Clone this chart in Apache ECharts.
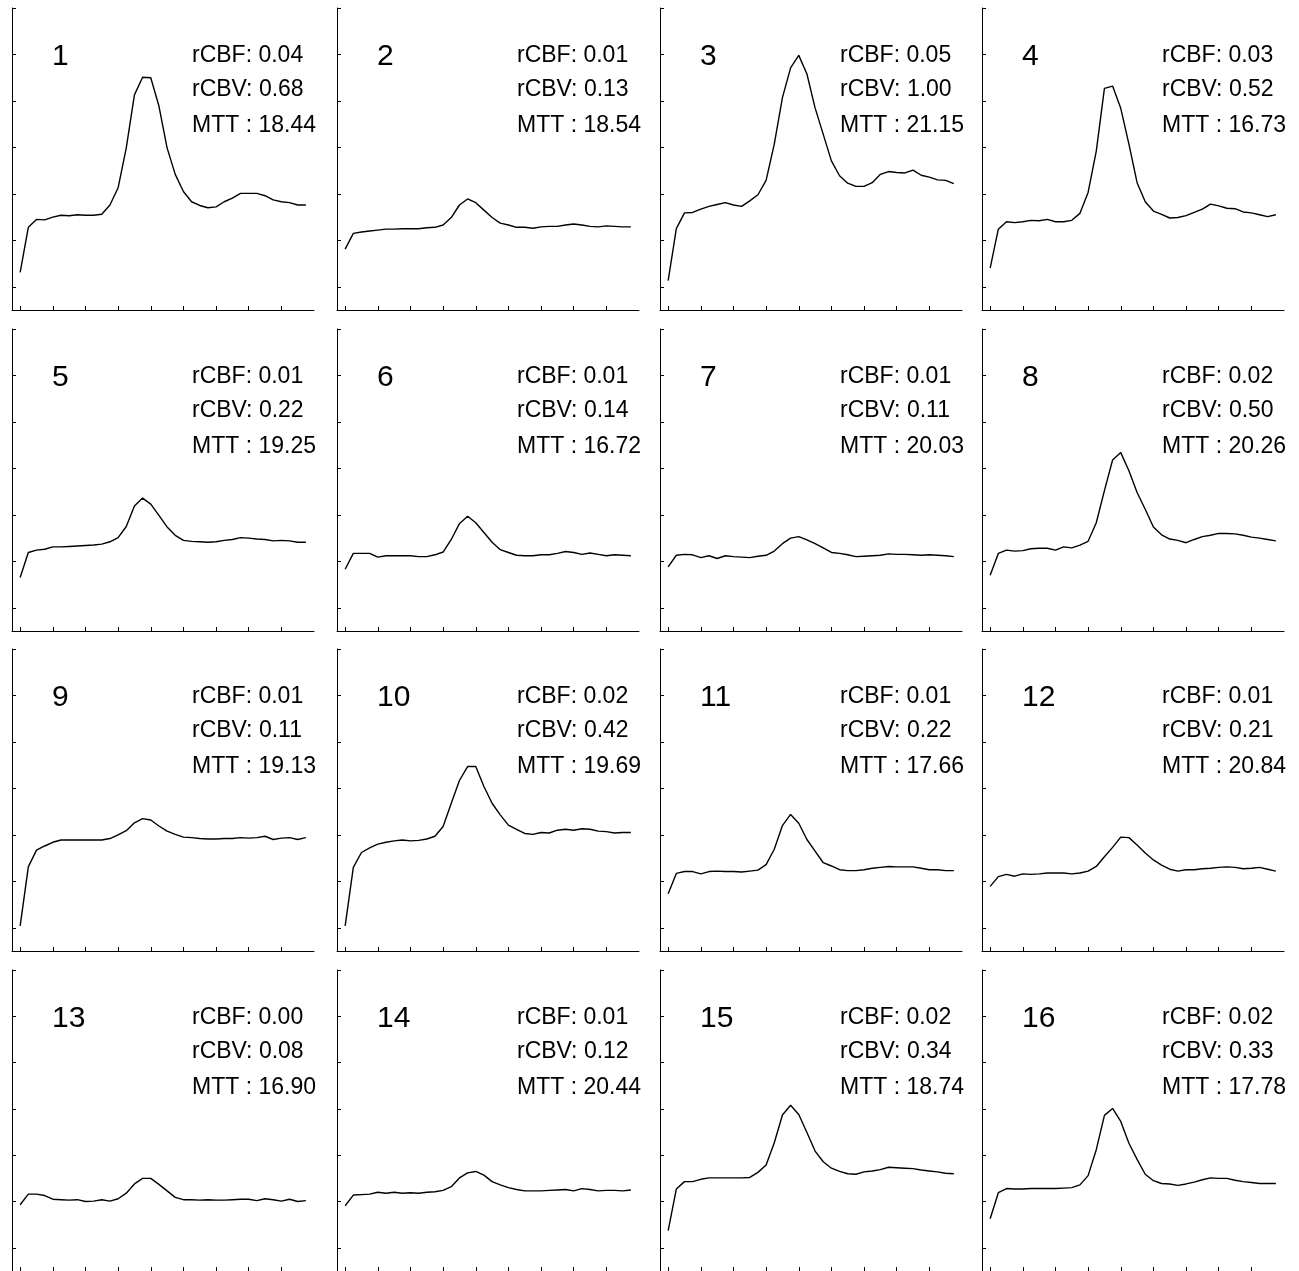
<!DOCTYPE html>
<html>
<head>
<meta charset="utf-8">
<title>ROI curves</title>
<script src="https://cdn.jsdelivr.net/npm/echarts@6/dist/echarts.min.js"></script>
<style>
  html, body { margin: 0; padding: 0; background: #fff; }
  #chart { width: 1299px; height: 1271px; }
</style>
</head>
<body>
<div id="chart"></div>
<script>
// time frames (x), same for every ROI
const frames = [0, 1, 2, 3, 4, 5, 6, 7, 8, 9, 10, 11, 12, 13, 14, 15, 16, 17,
  18, 19, 20, 21, 22, 23, 24, 25, 26, 27, 28, 29, 30, 31, 32, 33, 34, 35];
const xTicks = [0, 4, 8, 12, 16, 20, 24, 28, 32];
const yTicks = [0, 10, 20, 30, 40, 50, 60];

// concentration curves, one per ROI
const roi1 = [3.1, 12.8, 14.5, 14.4, 15.0, 15.4, 15.3, 15.5, 15.4, 15.4, 15.6, 17.6, 21.3, 29.9, 41.3, 45.1, 45.0, 38.9,
  29.9, 24.2, 20.5, 18.3, 17.5, 17.0, 17.2, 18.3, 19.1, 20.1, 20.1, 20.1, 19.6, 18.7, 18.3, 18.1, 17.6, 17.6];
const roi2 = [8.1, 11.5, 11.8, 12.0, 12.2, 12.4, 12.4, 12.5, 12.5, 12.5, 12.7, 12.8, 13.3, 14.9, 17.6, 18.9, 18.1, 16.5,
  14.9, 13.7, 13.3, 12.8, 12.8, 12.6, 12.9, 13.0, 13.0, 13.3, 13.5, 13.3, 13.0, 12.9, 13.1, 13.0, 12.9, 12.9];
const roi3 = [1.3, 12.5, 15.9, 16.0, 16.7, 17.3, 17.7, 18.1, 17.6, 17.3, 18.5, 19.8, 22.9, 30.7, 40.7, 47.1, 49.8, 45.8,
  38.5, 32.8, 27.1, 23.9, 22.3, 21.6, 21.6, 22.4, 24.2, 24.8, 24.6, 24.5, 25.1, 24.0, 23.6, 23.0, 22.9, 22.2];
const roi4 = [4.0, 12.4, 14.0, 13.8, 14.0, 14.3, 14.2, 14.5, 14.0, 14.0, 14.3, 15.8, 20.3, 29.2, 42.7, 43.2, 38.4, 30.7,
  22.4, 18.3, 16.3, 15.6, 14.8, 14.9, 15.3, 16.0, 16.7, 17.8, 17.4, 16.9, 16.8, 16.1, 15.9, 15.5, 15.1, 15.5];
const roi5 = [6.5, 11.9, 12.4, 12.6, 13.1, 13.1, 13.2, 13.3, 13.4, 13.5, 13.7, 14.2, 15.1, 17.5, 21.9, 23.6, 22.3, 19.9,
  17.4, 15.6, 14.5, 14.3, 14.2, 14.1, 14.2, 14.5, 14.7, 15.1, 15.0, 14.8, 14.7, 14.4, 14.5, 14.4, 14.1, 14.1];
const roi6 = [8.3, 11.7, 11.7, 11.7, 10.9, 11.2, 11.2, 11.2, 11.2, 11.0, 11.0, 11.4, 12.0, 14.7, 18.1, 19.7, 18.3, 16.2,
  14.1, 12.5, 11.9, 11.3, 11.2, 11.2, 11.4, 11.4, 11.7, 12.1, 11.9, 11.5, 11.8, 11.5, 11.2, 11.4, 11.3, 11.2];
const roi7 = [8.8, 11.3, 11.5, 11.4, 10.8, 11.2, 10.6, 11.2, 11.0, 10.9, 10.8, 11.1, 11.3, 12.2, 13.8, 15.0, 15.3, 14.6,
  13.8, 12.9, 11.9, 11.7, 11.4, 11.0, 11.1, 11.2, 11.3, 11.6, 11.5, 11.5, 11.4, 11.3, 11.4, 11.3, 11.2, 11.0];
const roi8 = [7.0, 11.7, 12.4, 12.2, 12.3, 12.7, 12.8, 12.8, 12.4, 13.1, 12.9, 13.5, 14.3, 18.3, 25.2, 31.8, 33.4, 29.5,
  24.8, 21.2, 17.4, 15.7, 14.8, 14.5, 14.0, 14.7, 15.3, 15.6, 16.0, 16.0, 15.9, 15.6, 15.2, 15.0, 14.7, 14.4];
const roi9 = [0.4, 13.1, 16.7, 17.6, 18.4, 18.9, 18.9, 18.9, 18.9, 18.9, 18.9, 19.2, 20.0, 20.9, 22.6, 23.5, 23.2, 21.9,
  20.8, 20.1, 19.5, 19.4, 19.2, 19.1, 19.1, 19.2, 19.2, 19.4, 19.3, 19.4, 19.7, 19.0, 19.3, 19.4, 19.0, 19.4];
const roi10 = [0.4, 13.0, 16.2, 17.2, 18.0, 18.4, 18.7, 18.9, 18.7, 18.8, 19.1, 19.7, 21.8, 26.8, 31.7, 34.7, 34.7, 30.4,
  26.8, 24.3, 22.1, 21.2, 20.3, 20.1, 20.5, 20.4, 21.0, 21.2, 21.0, 21.3, 21.2, 20.8, 20.7, 20.4, 20.5, 20.5];
const roi11 = [7.3, 11.7, 12.1, 12.1, 11.6, 12.1, 12.2, 12.1, 12.1, 12.0, 12.2, 12.4, 13.6, 16.9, 22.0, 24.4, 22.5, 19.0,
  16.5, 14.0, 13.3, 12.5, 12.3, 12.3, 12.5, 12.8, 13.0, 13.2, 13.1, 13.1, 13.1, 12.8, 12.5, 12.5, 12.3, 12.3];
const roi12 = [8.9, 11.0, 11.5, 11.1, 11.6, 11.5, 11.6, 11.8, 11.8, 11.8, 11.6, 11.8, 12.2, 13.2, 15.3, 17.3, 19.5, 19.4,
  17.8, 16.1, 14.6, 13.5, 12.6, 12.2, 12.5, 12.5, 12.7, 12.8, 13.0, 13.1, 13.0, 12.7, 12.8, 13.0, 12.6, 12.2];
const roi13 = [9.3, 11.6, 11.6, 11.3, 10.5, 10.4, 10.3, 10.4, 10.0, 10.1, 10.4, 10.1, 10.6, 11.8, 13.8, 15.0, 15.0, 13.7,
  12.3, 10.9, 10.4, 10.4, 10.3, 10.4, 10.3, 10.3, 10.4, 10.5, 10.5, 10.2, 10.6, 10.4, 10.1, 10.5, 10.0, 10.2];
const roi14 = [9.1, 11.4, 11.5, 11.6, 12.0, 11.8, 12.0, 11.8, 11.9, 11.8, 12.0, 12.1, 12.4, 13.2, 15.1, 16.2, 16.5, 15.7,
  14.3, 13.6, 13.0, 12.6, 12.3, 12.3, 12.3, 12.4, 12.5, 12.6, 12.3, 12.8, 12.6, 12.3, 12.4, 12.4, 12.3, 12.5];
const roi15 = [3.7, 12.7, 14.3, 14.3, 14.8, 15.1, 15.1, 15.1, 15.1, 15.1, 15.2, 16.3, 17.9, 22.7, 28.7, 30.8, 28.8, 24.9,
  20.9, 18.6, 17.2, 16.5, 16.0, 15.9, 16.4, 16.6, 16.9, 17.4, 17.3, 17.2, 17.1, 16.8, 16.6, 16.4, 16.1, 16.0];
const roi16 = [6.3, 11.9, 12.8, 12.7, 12.7, 12.8, 12.8, 12.8, 12.8, 12.9, 13.0, 13.6, 15.6, 21.2, 28.6, 30.1, 27.3, 22.6,
  19.1, 15.9, 14.5, 13.9, 13.8, 13.5, 13.8, 14.2, 14.7, 15.1, 15.0, 15.0, 14.6, 14.3, 14.1, 13.9, 13.9, 13.9];

const curves = [roi1, roi2, roi3, roi4, roi5, roi6, roi7, roi8,
  roi9, roi10, roi11, roi12, roi13, roi14, roi15, roi16];

const rCBF = ['0.04', '0.01', '0.05', '0.03', '0.01', '0.01', '0.01', '0.02',
  '0.01', '0.02', '0.01', '0.01', '0.00', '0.01', '0.02', '0.02'];
const rCBV = ['0.68', '0.13', '1.00', '0.52', '0.22', '0.14', '0.11', '0.50',
  '0.11', '0.42', '0.22', '0.21', '0.08', '0.12', '0.34', '0.33'];
const MTT = ['18.44', '18.54', '21.15', '16.73', '19.25', '16.72', '20.03', '20.26',
  '19.13', '19.69', '17.66', '20.84', '16.90', '20.44', '18.74', '17.78'];

// panel layout
const colLeft = [12, 337, 660, 982];
const rowTop = [8, 329, 649, 970];
const W = 302, H = 302;
const font = '"Liberation Sans", Arial, Helvetica, sans-serif';

const grid = [], xAxis = [], yAxis = [], series = [], graphic = [];

curves.forEach((vals, k) => {
  const left = colLeft[k % 4];
  const top = rowTop[Math.floor(k / 4)];

  grid.push({ left: left, top: top, width: W, height: H });

  xAxis.push({
    gridIndex: k,
    type: 'value',
    min: -1,
    max: 36,
    axisLine: { onZero: false, lineStyle: { color: '#000', width: 1 } },
    axisTick: { inside: true, length: 4, customValues: xTicks, lineStyle: { color: '#000' } },
    axisLabel: { show: false },
    splitLine: { show: false }
  });

  yAxis.push({
    gridIndex: k,
    type: 'value',
    min: -5,
    max: 60,
    axisLine: { show: true, onZero: false, lineStyle: { color: '#000', width: 1 } },
    axisTick: { show: true, inside: true, length: 4, customValues: yTicks, lineStyle: { color: '#000' } },
    axisLabel: { show: false },
    splitLine: { show: false }
  });

  series.push({
    type: 'line',
    xAxisIndex: k,
    yAxisIndex: k,
    data: frames.map((f, i) => [f, vals[i]]),
    symbol: 'none',
    lineStyle: { color: '#000', width: 1.4 },
    silent: true
  });

  graphic.push({
    type: 'text',
    x: left + 40,
    y: top + 49,
    style: { text: String(k + 1), fontSize: 30, fontFamily: font, fill: '#000', verticalAlign: 'middle' }
  });
  const lines = ['rCBF: ' + rCBF[k], 'rCBV: ' + rCBV[k], 'MTT : ' + MTT[k]];
  const offs = [48, 82, 118];
  lines.forEach((t, j) => {
    graphic.push({
      type: 'text',
      x: left + 180,
      y: top + offs[j],
      style: { text: t, fontSize: 23, fontFamily: font, fill: '#000', verticalAlign: 'middle' }
    });
  });
});

const chart = echarts.init(document.getElementById('chart'));
chart.setOption({
  backgroundColor: '#fff',
  animation: false,
  grid: grid,
  xAxis: xAxis,
  yAxis: yAxis,
  series: series,
  graphic: graphic
});
</script>
</body>
</html>
